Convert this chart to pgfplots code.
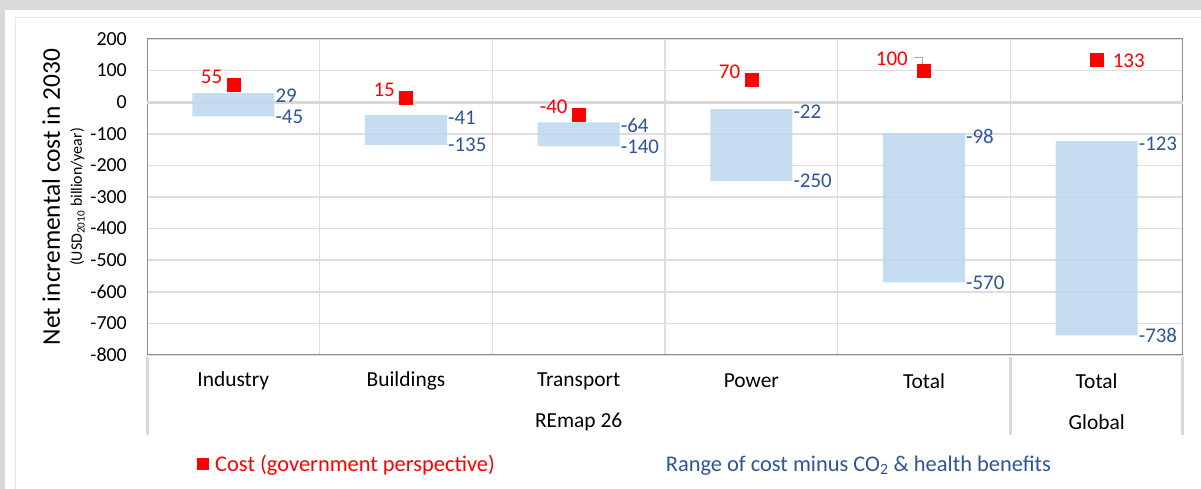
\documentclass[border=0pt]{standalone}
\usepackage{pgfplots}
\pgfplotsset{compat=1.18}
\usepackage{pgfplotstable}
\usepackage{fontspec}
\setmainfont{Carlito}
\definecolor{bggray}{HTML}{D9D9D9}
\definecolor{framegray}{HTML}{E4E4E4}
\definecolor{gridgray}{HTML}{DEDEDE}
\definecolor{zerogray}{HTML}{D9D9D9}
\definecolor{axgray}{HTML}{8C8C8C}
\definecolor{barblue}{HTML}{BDD7EE}
\definecolor{lblblue}{HTML}{2F5597}
\definecolor{costred}{HTML}{FF0000}

% ranges: lower / upper end of cost minus CO2 & health benefits, d = hi - lo
\pgfplotstableread{
x lo hi d
0 -45 29 74
1 -135 -41 94
2 -140 -64 76
3 -250 -22 228
4 -570 -98 472
5 -738 -123 615
}\ranges

% cost (government perspective)
\pgfplotstableread{
x cost
0 55
1 15
2 -40
3 70
4 100
5 133
}\costs

\newcommand{\tck}{\fontsize{20}{24}\selectfont}
\newcommand{\lbl}{\fontsize{21.5}{25}\selectfont}

\begin{document}
\begin{tikzpicture}[x=1bp,y=1bp]
\useasboundingbox (0,0) rectangle (1201,489);
\fill[bggray] (0,0) rectangle (1201,489);
\fill[white] (5,0) rectangle (1201,479);
\draw[framegray, line width=1bp] (15,0) -- (15,471) -- (1201,471);
\begin{axis}[
  at={(147bp,134bp)}, anchor=south west,
  width=1036bp, height=316bp, scale only axis,
  clip=false,
  xmin=-0.5, xmax=5.5, ymin=-800, ymax=200,
  ytick={-800,-700,...,200},
  yticklabels={-800,-700,-600,-500,-400,-300,-200,-100,0,100,200},
  xtick={0,...,5},
  xticklabels={Industry,Buildings,Transport,Power,Total,Total},
  minor xtick={0.5,1.5,...,4.5},
  xminorgrids, ymajorgrids,
  grid style={gridgray, line width=1.5bp},
  xtick style={draw=none}, ytick style={draw=none},
  axis line style={axgray, line width=1bp},
  tick label style={inner sep=0pt},
  yticklabel style={font=\tck, anchor=east, xshift=-20bp},
  xticklabel style={font=\lbl, anchor=center, yshift=-26bp},
  extra y ticks={0}, extra y tick labels={},
  extra y tick style={grid=major, major grid style={zerogray, line width=3bp}},
  ylabel={Net incremental cost in 2030},
  ylabel style={at={(rel axis cs:0,0.5)}, anchor=base, yshift=87bp, inner sep=0pt,
    font=\fontsize{25.5}{28}\selectfont},
  every node near coord/.append style={font=\fontsize{21}{25}\selectfont},
  legend style={at={(0.0483,-0.345)}, anchor=west, draw=none, fill=none,
    legend columns=2, inner sep=0pt, font=\fontsize{22.5}{26}\selectfont,
    /tikz/every odd column/.append style={column sep=5bp},
    /tikz/every even column/.append style={column sep=162bp}},
  legend cell align=left,
]
\addlegendimage{only marks, mark=square*, mark size=5.5bp, costred}
\addlegendentry{\textcolor{costred}{Cost (government perspective)}}
\addlegendimage{legend image code/.code={}}
\addlegendentry{\textcolor{lblblue}{Range of cost minus CO\textsubscript{2} \& health benefits}}

\addplot[ybar, bar width=0.475, bar shift=0pt, stack plots=y, draw=none, fill=none, forget plot]
  table[x=x, y=lo]{\ranges};
\addplot[ybar, bar width=0.475, bar shift=0pt, stack plots=y, draw=none, fill=barblue, fill opacity=0.85, forget plot]
  table[x=x, y=d]{\ranges};

% value labels right of the bars
\addplot[stack plots=false, draw=none, forget plot, nodes near coords, point meta=explicit symbolic,
  every node near coord/.append style={anchor=west, inner sep=1bp, text=lblblue, xshift=41bp, yshift=-3bp}]
  table[x=x, y=hi, meta=hi]{\ranges};
\addplot[stack plots=false, draw=none, forget plot, nodes near coords, point meta=explicit symbolic,
  every node near coord/.append style={anchor=west, inner sep=1bp, text=lblblue, xshift=41bp, yshift=0bp}]
  table[x=x, y=lo, meta=lo]{\ranges};

% cost markers
\addplot[stack plots=false, only marks, mark=square*, mark size=6.5bp, costred, forget plot,
  restrict x to domain=0:3,
  nodes near coords, point meta=explicit symbolic,
  every node near coord/.append style={anchor=east, xshift=-11bp, yshift=8bp, text=costred, inner sep=0pt}]
  table[x=x, y=cost, meta=cost]{\costs};
\addplot[stack plots=false, only marks, mark=square*, mark size=6.5bp, costred, forget plot,
  restrict x to domain=3.5:4.5,
  nodes near coords, point meta=explicit symbolic,
  every node near coord/.append style={anchor=east, xshift=-16bp, yshift=12bp, text=costred, inner sep=0pt}]
  table[x=x, y=cost, meta=cost]{\costs};
\addplot[stack plots=false, only marks, mark=square*, mark size=6.5bp, costred, forget plot,
  restrict x to domain=4.5:5.5,
  nodes near coords, point meta=explicit symbolic,
  every node near coord/.append style={anchor=west, xshift=16bp, yshift=-1bp, text=costred, inner sep=0pt}]
  table[x=x, y=cost, meta=cost]{\costs};

% leader line of the 100 label
\draw[gray!70, line width=0.8bp] ([xshift=-10bp, yshift=13bp]axis cs:4,100) -- ([xshift=-2bp, yshift=13bp]axis cs:4,100) -- ([xshift=-2bp, yshift=4bp]axis cs:4,100);

% multi-level category separators
\draw[zerogray, line width=3bp] ([yshift=-2bp]rel axis cs:0,0) -- ([yshift=-80bp]rel axis cs:0,0);
\draw[zerogray, line width=3bp] ([yshift=-2bp]rel axis cs:0.8333,0) -- ([yshift=-80bp]rel axis cs:0.8333,0);
\draw[zerogray, line width=3bp] ([yshift=-2bp]rel axis cs:1,0) -- ([yshift=-80bp]rel axis cs:1,0);
\node[font=\lbl] at ([yshift=-67bp]axis cs:2,-800) {REmap 26};
\node[font=\lbl] at ([yshift=-67bp]axis cs:5,-800) {Global};
\node[rotate=90, anchor=base, inner sep=0pt, font=\fontsize{16}{18}\selectfont]
  at ([xshift=-65bp]rel axis cs:0,0.5) {(USD\textsubscript{2010} billion/year)};
\end{axis}
\end{tikzpicture}
\end{document}
